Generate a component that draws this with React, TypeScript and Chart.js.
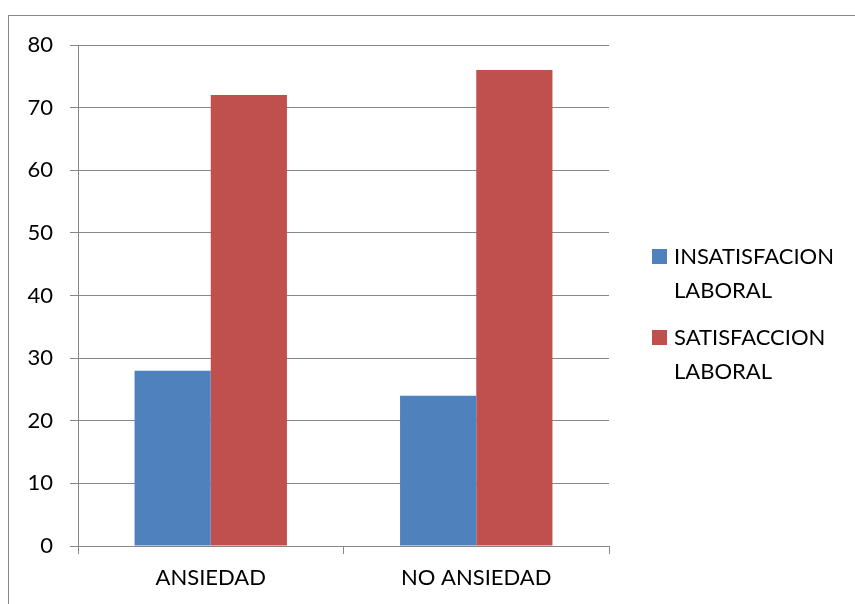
import React, { useEffect, useRef } from "react";
import { Chart, registerables } from "chart.js";

Chart.register(...registerables);

const categories = ["ANSIEDAD", "NO ANSIEDAD"];
const insatisfaccion = [28, 24];
const satisfaccion = [72, 76];
const seriesNames = [["INSATISFACION", "LABORAL"], ["SATISFACCION", "LABORAL"]];
const seriesColors = ["#4F81BD", "#C0504D"];
const yMin = 0;
const yMax = 80;
const yStep = 10;

const FONT = "Lato, 'Open Sans', sans-serif";
const GRID = "#878787";

export default function App() {
  const ref = useRef<HTMLCanvasElement | null>(null);

  useEffect(() => {
    if (!ref.current) return;
    const chart = new Chart(ref.current, {
      type: "bar",
      data: {
        labels: categories,
        datasets: [
          { label: seriesNames[0].join(" "), data: insatisfaccion, backgroundColor: seriesColors[0], borderWidth: 0 },
          { label: seriesNames[1].join(" "), data: satisfaccion, backgroundColor: seriesColors[1], borderWidth: 0 },
        ],
      },
      options: {
        animation: false,
        responsive: false,
        maintainAspectRatio: false,
        layout: { padding: { left: 0, right: 246, top: 45, bottom: 0 } },
        datasets: { bar: { categoryPercentage: 0.574, barPercentage: 1 } },
        plugins: { legend: { display: false }, tooltip: { enabled: false }, title: { display: false } },
        scales: {
          x: {
            offset: true,
            grid: { display: true, drawOnChartArea: false, drawTicks: true, tickLength: 8, color: GRID, offset: true },
            border: { display: true, color: GRID, width: 1 },
            ticks: { color: "#000", font: { family: FONT, size: 22 }, padding: 11 },
            afterFit: (s: any) => { s.height = 58; },
          },
          y: {
            min: yMin,
            max: yMax,
            ticks: { stepSize: yStep, color: "#000", font: { family: FONT, size: 22 }, padding: 17 },
            grid: { color: GRID, tickLength: 8, drawTicks: true },
            border: { display: true, color: GRID, width: 1 },
            afterFit: (s: any) => { s.width = 78; },
          },
        },
      },
    });
    return () => chart.destroy();
  }, []);

  const legendItem = (i: number, top: number) => (
    <div key={i} style={{ position: "absolute", left: 652, top, fontFamily: FONT, fontSize: 22, color: "#000" }}>
      <div style={{ position: "absolute", left: 0, top: 10, width: 15, height: 15, background: seriesColors[i] }} />
      <div style={{ position: "absolute", left: 22, top: 0, lineHeight: "34px", whiteSpace: "nowrap" }}>
        {seriesNames[i].map((t, k) => (
          <div key={k}>{t}</div>
        ))}
      </div>
    </div>
  );

  return (
    <div style={{ position: "absolute", left: 0, top: 0, width: 855, height: 604, overflow: "hidden", background: "#fff" }}>
      <div style={{ position: "absolute", left: 8, top: 15, width: 900, height: 700, border: `1px solid ${GRID}`, boxSizing: "border-box" }} />
      <canvas ref={ref} width={855} height={604} style={{ position: "absolute", left: 0, top: 0 }} />
      {legendItem(0, 239)}
      {legendItem(1, 320)}
    </div>
  );
}
